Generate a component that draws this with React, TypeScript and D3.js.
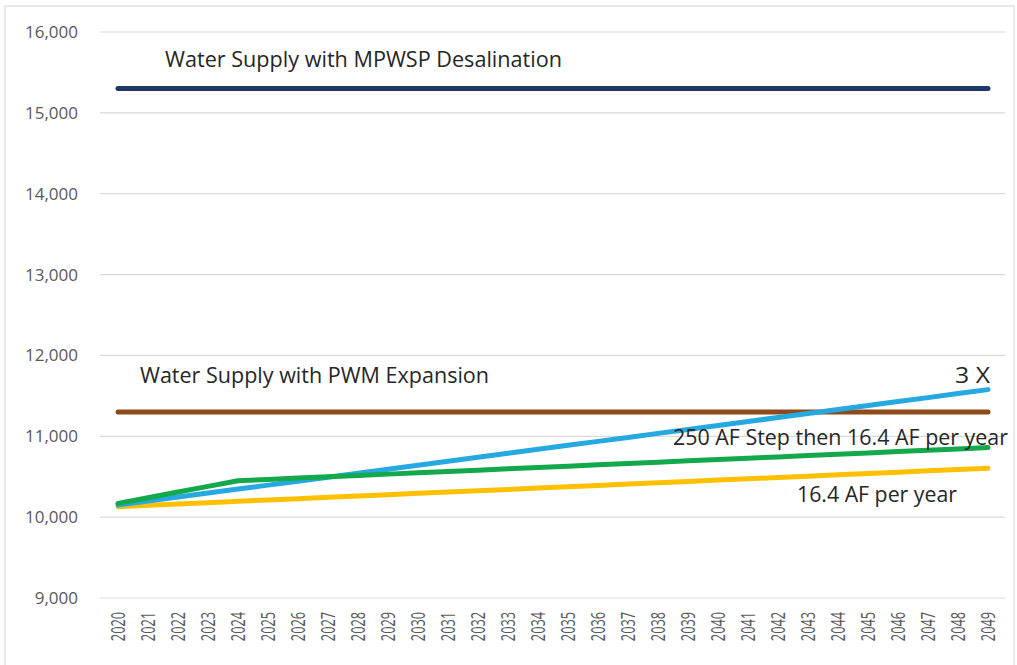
import React from 'react';
import * as d3 from 'd3';

// Years on the x axis
const years = [
  '2020', '2021', '2022', '2023', '2024', '2025', '2026', '2027', '2028', '2029',
  '2030', '2031', '2032', '2033', '2034', '2035', '2036', '2037', '2038', '2039',
  '2040', '2041', '2042', '2043', '2044', '2045', '2046', '2047', '2048', '2049',
];

// Flat supply lines (AF)
const desalSupply = [
  15300, 15300, 15300, 15300, 15300, 15300, 15300, 15300, 15300, 15300,
  15300, 15300, 15300, 15300, 15300, 15300, 15300, 15300, 15300, 15300,
  15300, 15300, 15300, 15300, 15300, 15300, 15300, 15300, 15300, 15300,
];
const pwmSupply = [
  11300, 11300, 11300, 11300, 11300, 11300, 11300, 11300, 11300, 11300,
  11300, 11300, 11300, 11300, 11300, 11300, 11300, 11300, 11300, 11300,
  11300, 11300, 11300, 11300, 11300, 11300, 11300, 11300, 11300, 11300,
];

// Demand scenarios (AF)
const threeX = [
  10150, 10199, 10248, 10298, 10347, 10396, 10445, 10494, 10544, 10593,
  10642, 10691, 10740, 10790, 10839, 10888, 10937, 10986, 11036, 11085,
  11134, 11183, 11232, 11282, 11331, 11380, 11429, 11478, 11528, 11577,
];
const stepThen = [
  10170, 10240, 10310, 10380, 10450, 10466, 10483, 10499, 10516, 10532,
  10548, 10565, 10581, 10598, 10614, 10630, 10647, 10663, 10680, 10696,
  10712, 10729, 10745, 10762, 10778, 10794, 10811, 10827, 10844, 10860,
];
const perYear = [
  10130, 10146, 10163, 10179, 10196, 10212, 10228, 10245, 10261, 10278,
  10294, 10310, 10327, 10343, 10360, 10376, 10392, 10409, 10425, 10442,
  10458, 10474, 10491, 10507, 10524, 10540, 10556, 10573, 10589, 10606,
];

const yTicks = [9000, 10000, 11000, 12000, 13000, 14000, 15000, 16000];

const FONT = '"Open Sans", "Liberation Sans", sans-serif';

const App = () => {
  const width = 1017;
  const height = 665;

  const x = d3.scaleBand().domain(years).range([103, 1003]);
  const y = d3.scaleLinear().domain([9000, 16000]).range([598, 32]);
  const cx = (d: string) => (x(d) as number) + x.bandwidth() / 2;

  const line = d3
    .line<number>()
    .x((_, i) => cx(years[i]))
    .y((v) => y(v));

  const series = [
    { values: desalSupply, color: '#203864' },
    { values: pwmSupply, color: '#8E4A1B' },
    { values: perYear, color: '#FFC000' },
    { values: threeX, color: '#25A9E0' },
    { values: stepThen, color: '#13A84B' },
  ];

  const fmt = d3.format(',');

  return (
    <svg width={width} height={height} style={{ position: 'absolute', left: 0, top: 0, background: '#fff' }}>
      <rect x={5} y={6} width={1009} height={700} fill="#fff" stroke="#e3e3e3" strokeWidth={1.5} />

      {/* gridlines */}
      {yTicks.map((t) => (
        <line key={t} x1={100} x2={1005} y1={y(t)} y2={y(t)} stroke="#d9d9d9" strokeWidth={1.2} />
      ))}

      {/* y labels */}
      {yTicks.map((t) => (
        <text
          key={'l' + t}
          x={78}
          y={y(t)}
          dy="0.35em"
          textAnchor="end"
          fontFamily={FONT}
          fontSize={17}
          fill="#595959"
        >
          {fmt(t)}
        </text>
      ))}

      {/* x labels */}
      {years.map((yr) => (
        <text
          key={yr}
          transform={`translate(${cx(yr)}, 612) rotate(-90) scale(0.85, 1.3)`}
          dy="0.35em"
          textAnchor="end"
          fontFamily={FONT}
          fontSize={15}
          fill="#595959"
        >
          {yr}
        </text>
      ))}

      {/* lines */}
      {series.map((s, i) => (
        <path
          key={i}
          d={line(s.values) as string}
          fill="none"
          stroke={s.color}
          strokeWidth={5}
          strokeLinecap="round"
          strokeLinejoin="round"
        />
      ))}

      {/* annotations */}
      <g fontFamily={FONT} fontSize={21.5} fill="#262626">
        <text x={165} y={67} textLength={397} lengthAdjust="spacingAndGlyphs">Water Supply with MPWSP Desalination</text>
        <text x={140} y={383} textLength={349} lengthAdjust="spacingAndGlyphs">Water Supply with PWM Expansion</text>
        <text x={955} y={383} textLength={35} lengthAdjust="spacingAndGlyphs">3 X</text>
        <text x={673} y={445} textLength={335} lengthAdjust="spacingAndGlyphs">250 AF Step then 16.4 AF per year</text>
        <text x={797} y={502} textLength={160} lengthAdjust="spacingAndGlyphs">16.4 AF per year</text>
      </g>
    </svg>
  );
};

export default App;
